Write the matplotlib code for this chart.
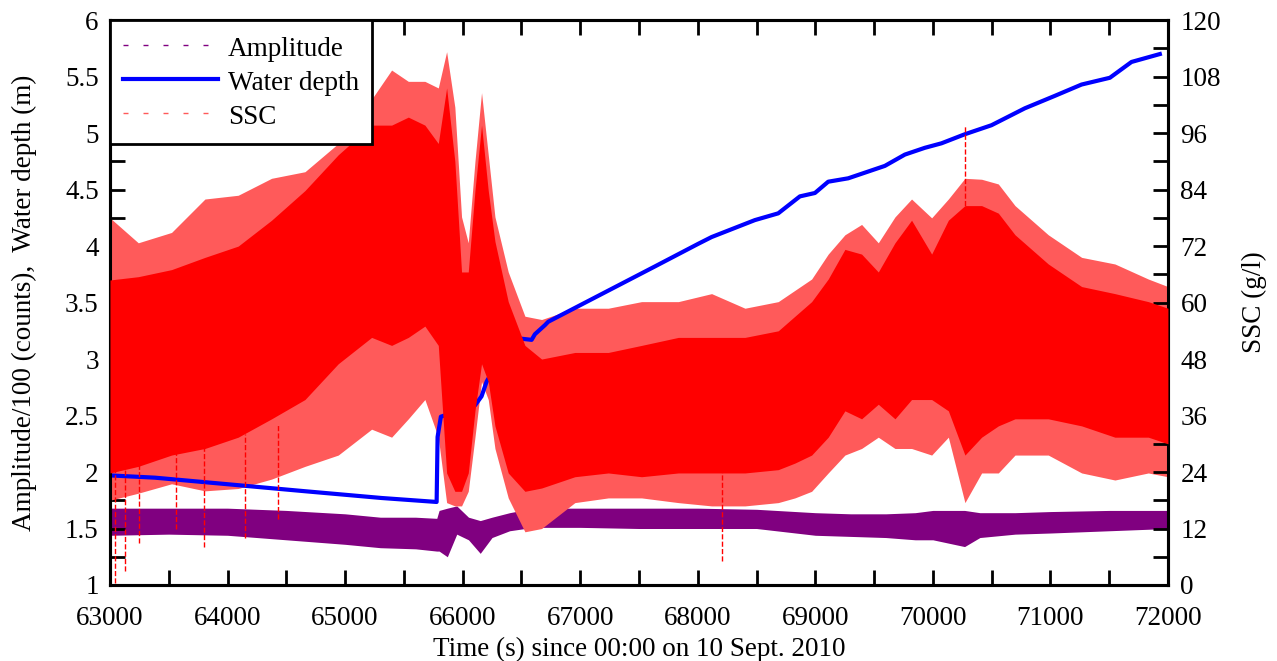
import numpy as np
import matplotlib.pyplot as plt
from matplotlib.lines import Line2D

plt.rcParams['font.family'] = ['Liberation Serif', 'DejaVu Serif']

# water depth (m)
depth_t = [63000, 63383, 64659, 65311, 65779, 65787, 65815, 66105, 66161, 66204,
           66417, 66587, 66615, 66700, 66728, 67636, 68004, 68118, 68486, 68685,
           68869, 68997, 69110, 69280, 69592, 69762, 69932, 70074, 70272, 70499,
           70783, 71038, 71265, 71506, 71690, 71931]
depth_m = [1.97, 1.95, 1.83, 1.77, 1.735, 2.31, 2.49, 2.59, 2.67, 2.80,
           3.19, 3.17, 3.22, 3.30, 3.33, 3.82, 4.02, 4.08, 4.23, 4.29,
           4.44, 4.47, 4.57, 4.60, 4.71, 4.81, 4.87, 4.91, 4.99, 5.07,
           5.22, 5.33, 5.43, 5.49, 5.63, 5.70]

# amplitude/100 (counts): band limits of the purple trace
amp_t = [63000, 63500, 64000, 64500, 65000, 65300, 65600, 65780, 65800, 65870,
         65950, 66050, 66150, 66250, 66400, 66600, 67000, 67500, 68000, 68500,
         69000, 69300, 69600, 69850, 70000, 70270, 70400, 70700, 71000, 71500, 72000]
amp_hi = [1.68, 1.68, 1.68, 1.66, 1.63, 1.60, 1.60, 1.59, 1.66, 1.68,
          1.70, 1.60, 1.57, 1.60, 1.64, 1.68, 1.68, 1.68, 1.68, 1.67,
          1.64, 1.63, 1.63, 1.64, 1.66, 1.66, 1.64, 1.64, 1.65, 1.66, 1.66]
amp_lo = [1.44, 1.45, 1.44, 1.40, 1.36, 1.33, 1.32, 1.30, 1.30, 1.25,
          1.45, 1.40, 1.28, 1.42, 1.48, 1.51, 1.51, 1.50, 1.50, 1.50,
          1.44, 1.43, 1.42, 1.40, 1.40, 1.34, 1.42, 1.45, 1.46, 1.48, 1.50]

# SSC (g/l): dense band and outer spike range of the red trace
ssc_t = [63000, 63241, 63524, 63808, 64091, 64375, 64659, 64942, 65226, 65396,
         65538, 65679, 65793, 65864, 65934, 65991, 66048, 66105, 66161, 66218,
         66275, 66388, 66530, 66672, 66955, 67239, 67522, 67835, 68118, 68402,
         68685, 68827, 68969, 69110, 69252, 69394, 69536, 69678, 69819, 69990,
         70132, 70273, 70415, 70557, 70699, 70982, 71266, 71549, 71833, 72000]
ssc_outer_lo = [18.0, 19.5, 21.5, 20.0, 20.5, 22.5, 25.2, 27.6, 33.1, 31.4,
                35.3, 39.4, 31.4, 17.5, 16.8, 16.8, 19.9, 31.4, 43.2, 39.4,
                29.0, 18.5, 11.3, 12.0, 17.5, 18.5, 18.5, 17.5, 16.8, 16.8,
                17.5, 18.5, 19.9, 23.8, 27.6, 29.0, 31.4, 29.0, 29.0, 27.6,
                31.4, 17.5, 23.8, 23.8, 27.6, 27.6, 23.8, 22.3, 23.8, 23.0]
ssc_lo = [23.8, 25.2, 27.6, 29.0, 31.4, 35.3, 39.4, 47.0, 52.6, 50.9,
          52.6, 55.0, 50.9, 23.8, 19.9, 19.9, 23.8, 37.0, 47.0, 43.2,
          33.8, 23.8, 19.9, 20.6, 23.0, 23.8, 23.0, 23.8, 23.8, 23.8,
          24.5, 25.9, 27.6, 31.4, 37.0, 35.3, 38.4, 35.3, 39.4, 39.4,
          37.0, 27.6, 31.4, 33.8, 35.3, 35.3, 33.8, 31.4, 31.4, 30.0]
ssc_hi = [64.8, 65.5, 67.0, 69.6, 72.0, 77.5, 83.8, 91.4, 97.7, 97.7,
          99.4, 97.7, 93.8, 105.6, 90.0, 66.5, 66.5, 83.8, 97.7, 83.8,
          73.0, 60.2, 50.9, 48.0, 49.4, 49.4, 50.9, 52.6, 52.6, 52.6,
          54.0, 57.1, 60.2, 65.0, 71.3, 70.3, 66.5, 72.7, 77.5, 70.3,
          77.5, 80.6, 80.6, 79.0, 74.4, 68.2, 63.4, 61.9, 60.2, 58.8]
ssc_outer_hi = [78.0, 72.7, 74.9, 82.0, 82.8, 86.4, 87.8, 93.8, 103.2, 109.4,
                107.0, 107.0, 105.6, 113.3, 101.5, 78.2, 72.7, 90.0, 104.6, 91.4,
                78.2, 66.5, 57.1, 56.4, 58.8, 58.8, 60.2, 60.2, 61.9, 58.8,
                60.2, 62.6, 65.0, 70.3, 74.4, 76.6, 72.7, 78.2, 82.0, 78.0,
                82.0, 86.4, 86.2, 85.2, 80.6, 74.4, 69.6, 68.2, 65.0, 63.4]

# single isolated SSC spikes
spike_t = [63040, 63130, 63250, 63560, 63800, 64150, 64430, 68205, 70275]
spike_lo = [0.5, 3.0, 9.0, 12.0, 8.0, 10.0, 14.0, 5.0, 40.0]
spike_hi = [35.0, 30.0, 28.0, 30.0, 30.0, 32.0, 34.0, 25.0, 97.5]

purple = '#800080'
blue = '#0000ff'
red = '#ff0000'
pink = '#ff5a5a'
fs = 19.5

fig = plt.figure(figsize=(12.77, 6.61), dpi=100)
ax = fig.add_axes([0.0861, 0.115, 0.8285, 0.8545])
ax2 = ax.twinx()

ax.fill_between(amp_t, amp_lo, amp_hi, color=purple, lw=0)

# SSC lives on the right axis; the depth line is drawn there too (in left-axis
# units) so it can sit between the outer spikes and the dense core
ax2.fill_between(ssc_t, ssc_outer_lo, ssc_outer_hi, color=pink, lw=0, zorder=1)
ax2.plot(depth_t, depth_m, color=blue, lw=3, transform=ax.transData, zorder=2)
ax2.fill_between(ssc_t, ssc_lo, ssc_hi, color=red, lw=0, zorder=3)
ax2.vlines(spike_t, spike_lo, spike_hi, colors=red, linestyles='--', lw=1, zorder=3)

ax.set_xlim(63000, 72000)
ax.set_ylim(1, 6)
ax2.set_ylim(0, 120)

ax.set_xticks(np.arange(63000, 72001, 1000))
ax.set_xticks(np.arange(63500, 72000, 1000), minor=True)
yt = np.arange(1, 6.01, 0.5)
ax.set_yticks(yt)
ax.set_yticklabels(['%g' % v for v in yt])
ax.set_yticks(np.arange(1.25, 6, 0.5), minor=True)
ax2.set_yticks(np.arange(0, 121, 12))
ax2.set_yticks(np.arange(6, 120, 12), minor=True)

ax.tick_params(axis='x', which='both', direction='in', length=11, width=2,
               top=True, labelsize=fs, pad=15)
ax.tick_params(axis='y', which='both', direction='in', length=11, width=2,
               right=False, labelsize=fs, pad=8)
ax2.tick_params(axis='y', which='both', direction='in', length=11, width=2,
                left=False, labelsize=fs, pad=9)

for a in (ax, ax2):
    for s in a.spines.values():
        s.set_linewidth(2.2)

ax.set_xlabel('Time (s) since 00:00 on 10 Sept. 2010', fontsize=fs, labelpad=4)
ax.set_ylabel('Amplitude/100 (counts),  Water depth (m)', fontsize=fs, labelpad=20)
ax2.set_ylabel('SSC (g/l)', fontsize=fs, labelpad=15)

handles = [Line2D([], [], color=purple, ls=(0, (3.6, 10.8)), lw=1),
           Line2D([], [], color=blue, lw=3),
           Line2D([], [], color=pink, ls=(0, (3.6, 10.8)), lw=1)]
leg = ax2.legend(handles, ['Amplitude', 'Water depth', 'SSC'], loc='upper left',
                 bbox_to_anchor=(0, 1), borderaxespad=0, fancybox=False,
                 edgecolor='black', framealpha=1, fontsize=fs,
                 handlelength=3.5, handleheight=1.15, handletextpad=0.35,
                 borderpad=0.5, labelspacing=0.2)
leg.get_frame().set_linewidth(2)
leg.set_zorder(5)

fig.savefig('out.png', dpi=100)
